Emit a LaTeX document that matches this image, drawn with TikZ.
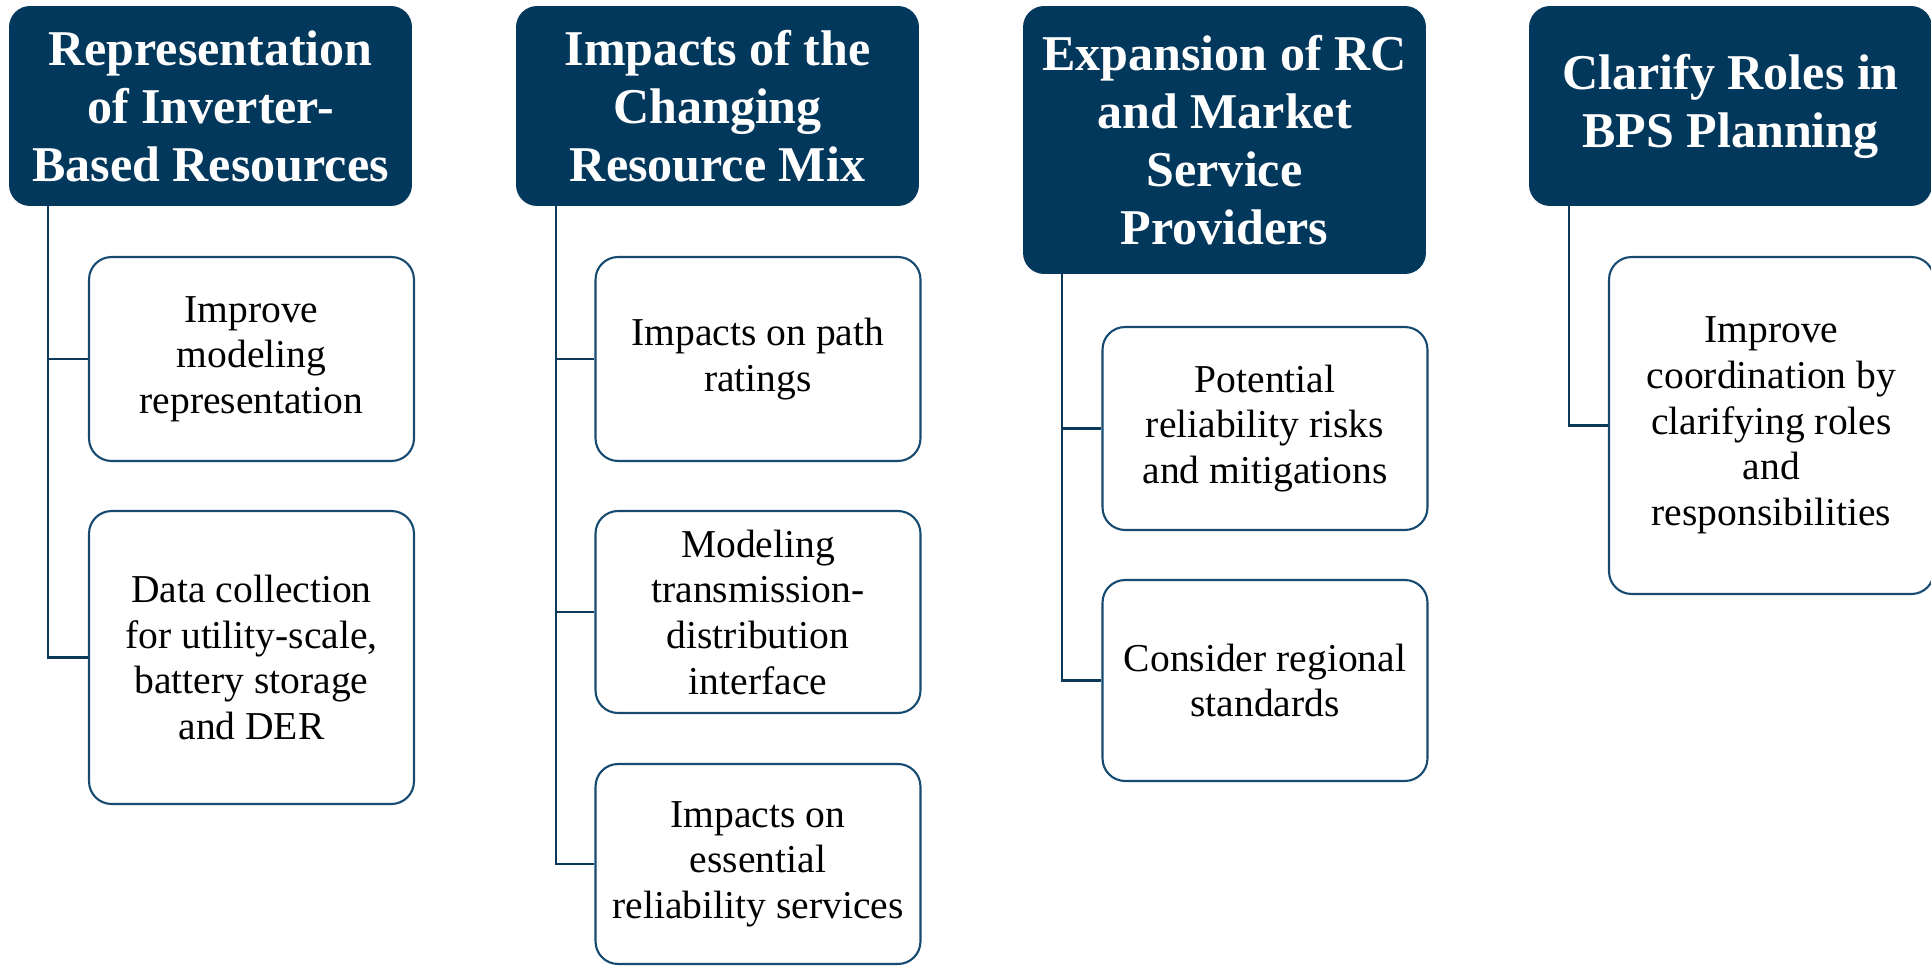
\documentclass[tikz,border=0pt]{standalone}
\usepackage{fontspec}
\setmainfont{Liberation Serif}
\definecolor{navy}{RGB}{3,56,93}
\definecolor{bordc}{RGB}{22,74,113}
\definecolor{connc}{RGB}{12,56,90}
\begin{document}
\begin{tikzpicture}[x=0.02cm,y=-0.02cm,
  hdr/.style={fill=navy, rounded corners=0.42cm, text=white, align=center, inner sep=0pt,
    minimum width=8.06cm, font=\fontsize{28.5}{33}\selectfont\bfseries},
  item/.style={draw=bordc, line width=1.2pt, fill=white, rounded corners=0.45cm, align=center,
    inner sep=0pt, minimum width=6.5cm, font=\fontsize{22.5}{26}\selectfont},
  conn/.style={draw=connc, line width=1.2pt}
]
\useasboundingbox (0,0) rectangle (1931,966);

% headers
\node[hdr, minimum height=4cm] (h1) at (210.5,106) {Representation\\of Inverter-\\Based Resources};
\node[hdr, minimum height=4cm] (h2) at (717.5,106) {Impacts of the\\Changing\\Resource Mix};
\node[hdr, minimum height=5.36cm] (h3) at (1224.5,140) {Expansion of RC\\and Market\\Service\\Providers};
\node[hdr, minimum height=4cm] (h4) at (1730.5,106) {Clarify Roles in\\BPS Planning};

% column 1
\node[item, minimum height=4.08cm] (b1) at (251.5,359) {Improve\\modeling\\representation};
\node[item, minimum height=5.86cm] (b2) at (251.5,657.5) {Data collection\\for utility-scale,\\battery storage\\and DER};

% column 2
\node[item, minimum height=4.08cm] (c1) at (758,359) {Impacts on path\\ratings};
\node[item, minimum height=4.04cm] (c2) at (758,612) {Modeling\\transmission-\\distribution\\interface};
\node[item, minimum height=4.0cm] (c3) at (758,864) {Impacts on\\essential\\reliability services};

% column 3
\node[item, minimum height=4.06cm] (d1) at (1265,428.5) {Potential\\reliability risks\\and mitigations};
\node[item, minimum height=4.02cm] (d2) at (1265,680.5) {Consider regional\\standards};

% column 4
\node[item, minimum height=6.74cm] (e1) at (1771.5,425.5) {Improve\\coordination by\\clarifying roles\\and\\responsibilities};

% connectors
\draw[conn] ([xshift=0.78cm]h1.south west) |- (b1.west);
\draw[conn] ([xshift=0.78cm]h1.south west) |- (b2.west);
\draw[conn] ([xshift=0.8cm]h2.south west) |- (c1.west);
\draw[conn] ([xshift=0.8cm]h2.south west) |- (c2.west);
\draw[conn] ([xshift=0.8cm]h2.south west) |- (c3.west);
\draw[conn] ([xshift=0.78cm]h3.south west) |- (d1.west);
\draw[conn] ([xshift=0.78cm]h3.south west) |- (d2.west);
\draw[conn] ([xshift=0.8cm]h4.south west) |- (e1.west);
\end{tikzpicture}
\end{document}
